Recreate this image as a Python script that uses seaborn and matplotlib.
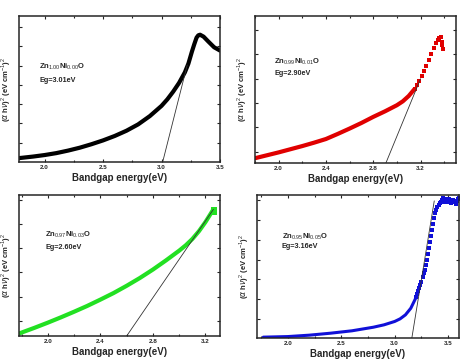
import numpy as np
import matplotlib
matplotlib.use("Agg")
import matplotlib.pyplot as plt
import seaborn as sns
from matplotlib.ticker import MultipleLocator, NullFormatter, FormatStrFormatter

# ── data ──────────────────────────────────────────────────────────
# panel 1: Zn1.00Ni0.00O (black)
x1 = [1.78, 1.9, 2.0, 2.1, 2.2, 2.3, 2.4, 2.5, 2.6, 2.7, 2.8, 2.9, 3.0,
      3.05, 3.1, 3.15, 3.2, 3.23, 3.26, 3.28, 3.3, 3.315, 3.33, 3.36, 3.4,
      3.45, 3.5]
y1 = [0.2, 0.28, 0.36, 0.46, 0.59, 0.74, 0.92, 1.12, 1.35, 1.62, 1.95, 2.38, 2.91,
      3.25, 3.65, 4.1, 4.65, 5.1, 5.72, 6.1, 6.45, 6.57, 6.6, 6.5, 6.25,
      5.95, 5.78]
tan1_x = [3.01, 3.22]
tan1_y = [0.0, 5.03]

# panel 2: Zn0.99Ni0.01O (red)
x2 = [1.8, 1.9, 2.0, 2.1, 2.2, 2.3, 2.4, 2.5, 2.6, 2.7, 2.8, 2.9, 3.0,
      3.05, 3.1, 3.15]
y2 = [0.2, 0.32, 0.44, 0.57, 0.7, 0.84, 0.99, 1.2, 1.42, 1.65, 1.9, 2.13, 2.38,
      2.54, 2.76, 3.05]
x2_top = [3.15, 3.17, 3.19, 3.21, 3.23, 3.25, 3.27, 3.29, 3.31, 3.33, 3.35,
          3.36, 3.37, 3.38, 3.385, 3.39]
y2_top = [3.05, 3.2, 3.38, 3.6, 3.78, 4.0, 4.25, 4.5, 4.72, 4.92, 5.08,
          5.15, 5.2, 5.0, 4.85, 4.7]
tan2_x = [2.907, 3.2]
tan2_y = [0.0, 3.47]

# panel 3: Zn0.97Ni0.03O (green)
x3 = [1.78, 1.9, 2.0, 2.1, 2.2, 2.3, 2.4, 2.5, 2.6, 2.7, 2.8, 2.9, 3.0,
      3.05, 3.1, 3.15, 3.2, 3.26]
y3 = [-0.52, -0.28, -0.07, 0.15, 0.38, 0.62, 0.88, 1.15, 1.45, 1.77, 2.12, 2.5, 2.9,
      3.12, 3.38, 3.7, 4.08, 4.6]
x3_top = [3.26, 3.265, 3.27, 3.275]
y3_top = [4.6, 4.45, 4.6, 4.45]
tan3_x = [2.6, 3.26]
tan3_y = [-0.62, 4.6]

# panel 4: Zn0.95Ni0.05O (blue)
x4 = [1.77, 2.0, 2.2, 2.4, 2.6, 2.8, 2.9, 3.0, 3.05, 3.1, 3.15, 3.2]
y4 = [-0.9, -0.87, -0.8, -0.7, -0.58, -0.4, -0.28, -0.11, 0.02, 0.22, 0.55, 1.1]
x4_top = [3.2, 3.21, 3.22, 3.23, 3.24, 3.25, 3.26, 3.27, 3.28, 3.29, 3.3,
          3.31, 3.32, 3.33, 3.34, 3.35, 3.36, 3.37, 3.38, 3.39, 3.4,
          3.41, 3.42, 3.43, 3.44, 3.45, 3.46, 3.47, 3.48, 3.49, 3.5,
          3.51, 3.52, 3.53, 3.54, 3.55, 3.56, 3.57, 3.58, 3.59, 3.6]
y4_top = [1.1, 1.25, 1.4, 1.55, 1.7, 1.86, 2.1, 2.3, 2.5, 2.75, 3.0,
          3.3, 3.6, 3.9, 4.2, 4.5, 4.8, 5.1, 5.35, 5.5, 5.65,
          5.75, 5.85, 5.9, 6.0, 6.08, 5.95, 5.9, 6.02, 5.95, 5.9,
          6.05, 5.98, 5.85, 5.92, 6.0, 5.9, 5.8, 5.95, 6.05, 6.1]
tan4_x = [3.16, 3.37]
tan4_y = [-0.95, 5.95]

labels = ["Zn$_{1.00}$Ni$_{0.00}$O", "Zn$_{0.99}$Ni$_{0.01}$O",
          "Zn$_{0.97}$Ni$_{0.03}$O", "Zn$_{0.95}$Ni$_{0.05}$O"]
eg_labels = ["Eg=3.01eV", "Eg=2.90eV", "Eg=2.60eV", "Eg=3.16eV"]

# ── style ─────────────────────────────────────────────────────────
sns.set_style("ticks")
plt.rcParams["font.family"] = ["Liberation Sans", "DejaVu Sans"]
plt.rcParams["mathtext.fontset"] = "custom"
plt.rcParams["mathtext.rm"] = "Liberation Sans"
plt.rcParams["mathtext.bf"] = "Liberation Sans:bold"
plt.rcParams["lines.solid_capstyle"] = "round"
plt.rcParams["lines.solid_joinstyle"] = "round"

fig = plt.figure(figsize=(4.74, 3.64), dpi=100)

panels = [
    dict(rect=[0.040, 0.555, 0.424, 0.401], color="black",
         main=(x1, y1), top=None, tan=(tan1_x, tan1_y),
         xlim=(1.78, 3.5), ylim=(0, 7.57), yticks=[1, 2, 3, 4, 5, 6, 7],
         xmaj=0.5, txt=(0.10, 0.65, 0.56)),
    dict(rect=[0.538, 0.552, 0.424, 0.404], color="#e00000",
         main=(x2, y2), top=(x2_top, y2_top), tan=(tan2_x, tan2_y),
         xlim=(1.8, 3.5), ylim=(0, 6.05), yticks=[0.47, 1.47, 2.47, 3.47, 4.47, 5.47],
         xmaj=0.4, txt=(0.095, 0.69, 0.61)),
    dict(rect=[0.040, 0.077, 0.424, 0.387], color="#22e022",
         main=(x3, y3), top=(x3_top, y3_top), tan=(tan3_x, tan3_y),
         xlim=(1.78, 3.31), ylim=(-0.62, 5.19), yticks=[0, 1, 2, 3, 4, 5],
         xmaj=0.4, txt=(0.13, 0.72, 0.63)),
    dict(rect=[0.542, 0.071, 0.426, 0.393], color="#1010d8",
         main=(x4, y4), top=(x4_top, y4_top), tan=(tan4_x, tan4_y),
         xlim=(1.71, 3.60), ylim=(-0.95, 6.24), yticks=[0, 1, 2, 3, 4, 5, 6],
         xmaj=0.5, txt=(0.124, 0.71, 0.64)),
]

for i, p in enumerate(panels):
    ax = fig.add_axes(p["rect"])
    lw = 2.2 if i == 3 else 3.0
    sns.lineplot(x=p["main"][0], y=p["main"][1], ax=ax, color=p["color"],
                 lw=lw, sort=False, estimator=None)
    if p["top"] is not None:
        sns.scatterplot(x=p["top"][0], y=p["top"][1], ax=ax, color=p["color"],
                        marker="s", s=7, linewidth=0)
    sns.lineplot(x=p["tan"][0], y=p["tan"][1], ax=ax, color="#333333",
                 lw=0.6, estimator=None)

    ax.set_xlim(*p["xlim"])
    ax.set_ylim(*p["ylim"])
    ax.set_yticks(p["yticks"])
    ax.yaxis.set_major_formatter(NullFormatter())
    ax.xaxis.set_major_locator(MultipleLocator(p["xmaj"]))
    ax.xaxis.set_minor_locator(MultipleLocator(p["xmaj"] / 2))
    ax.xaxis.set_major_formatter(FormatStrFormatter("%.1f"))
    ax.tick_params(which="both", direction="in", top=True, right=True,
                   width=0.8, labelsize=4.5, pad=2)
    ax.tick_params(which="major", length=2.5)
    ax.tick_params(which="minor", length=1.5)
    for lab in ax.get_xticklabels():
        lab.set_fontweight("bold")
    for s in ax.spines.values():
        s.set_linewidth(1.1)

    ax.set_xlabel("Bandgap energy(eV)", fontsize=7, fontweight="bold", labelpad=2)
    ax.set_ylabel("($\\alpha$ h$\\nu$)$^2$ (eV cm$^{-1}$)$^2$", fontsize=5.5,
                  fontweight="bold")
    ax.yaxis.set_label_coords(-0.03, 0.5)

    tx, ty1, ty2 = p["txt"]
    ax.text(tx, ty1, labels[i], transform=ax.transAxes, fontsize=5.5,
            fontweight="bold", va="center")
    ax.text(tx, ty2, eg_labels[i], transform=ax.transAxes, fontsize=5.2,
            fontweight="bold", va="center")

fig.savefig("out.png", dpi=100)
